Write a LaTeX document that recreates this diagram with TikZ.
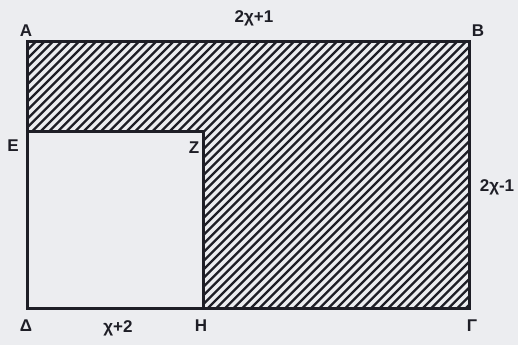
\documentclass[tikz,border=0pt]{standalone}
\usepackage{fontspec}
\setmainfont{Liberation Sans}
\definecolor{paper}{RGB}{236,237,240}
\definecolor{ink}{RGB}{30,30,38}
\begin{document}
\begin{tikzpicture}[x=1pt,y=-1pt,
  edge/.style={draw=ink,line width=3pt,line cap=rect},
  hatch/.style={draw=ink,line width=2.3pt},
  lbl/.style={text=ink,font=\fontsize{17}{19}\selectfont\bfseries,inner sep=0pt}]
\fill[paper] (0,0) rectangle (518,345);
\useasboundingbox (0,0) rectangle (518,345);
\coordinate (A) at (27,42);
\coordinate (B) at (469,42);
\coordinate (G) at (469,308);
\coordinate (D) at (27,308);
\coordinate (E) at (27,131);
\coordinate (Z) at (203,131);
\coordinate (H) at (203,308);
\begin{scope}
  \clip (A) -- (B) -- (G) -- (H) -- (Z) -- (E) -- cycle;
  \foreach \k in {0,8.6,...,880} {
    \draw[hatch] (\k,0) -- (\k-345,345);
  }
\end{scope}
\draw[edge] (A) -- (B) -- (G) -- (D) -- cycle;
\draw[edge] (E) -- (Z) -- (H);
\node[lbl] (lA) at (26,31) {A};
\node[lbl] (lB) at (478,31) {B};
\node[lbl] (lAB) at (254,18) {2χ+1};
\node[lbl] (lE) at (13,146) {E};
\node[lbl] (lZ) at (194,148) {Z};
\node[lbl] (lBG) at (497,187) {2χ-1};
\node[lbl] (lD) at (26,326) {Δ};
\node[lbl] (lDH) at (118,328) {χ+2};
\node[lbl] (lH) at (201,326) {H};
\node[lbl] (lG) at (472,326) {Γ};
\end{tikzpicture}
\end{document}
